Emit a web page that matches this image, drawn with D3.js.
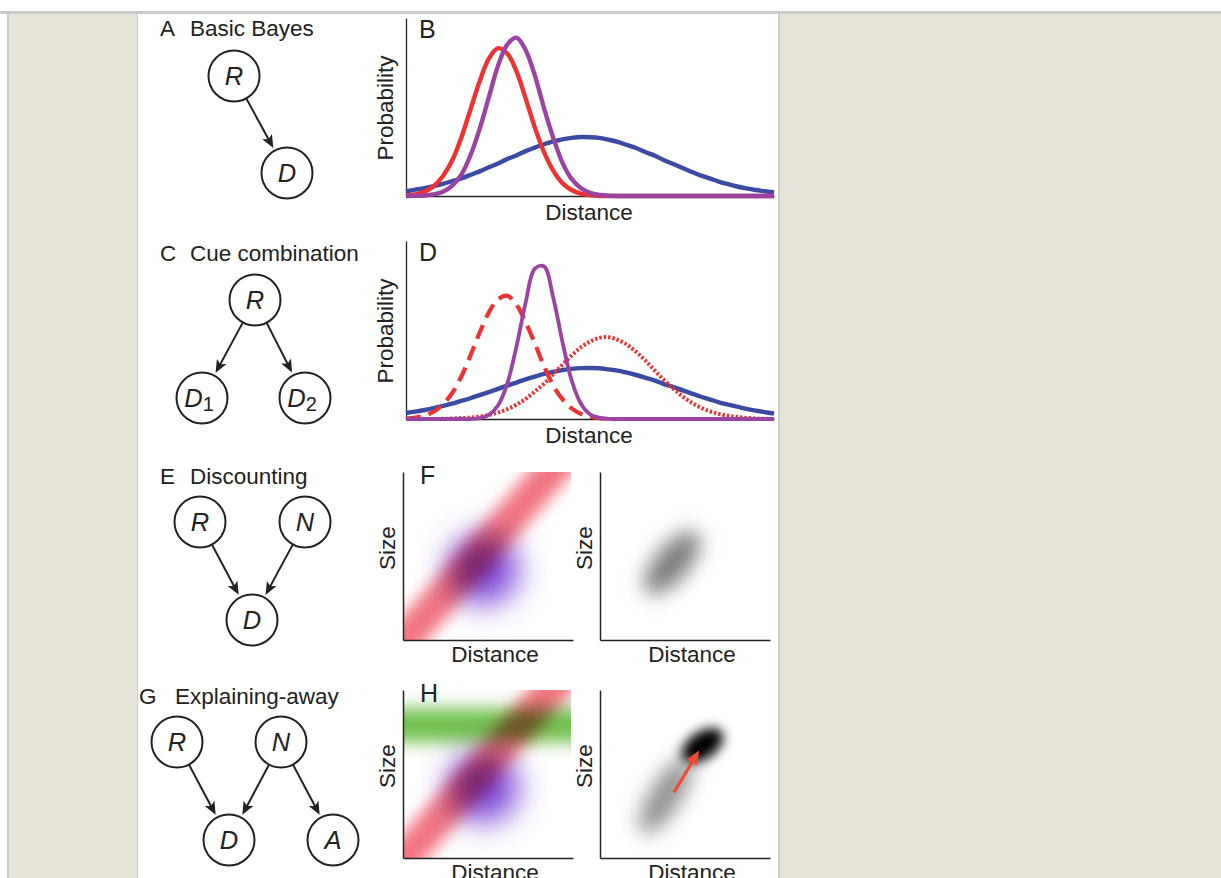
<!DOCTYPE html>
<html>
<head>
<meta charset="utf-8">
<script src="https://cdn.jsdelivr.net/npm/d3@7/dist/d3.min.js"></script>
<style>
  html, body { margin: 0; padding: 0; background: #fff; }
  svg { display: block; font-family: "Liberation Sans", Arial, Helvetica, sans-serif; }
</style>
</head>
<body>
<svg id="fig" width="1221" height="878"></svg>
<script>
// ---- data ----------------------------------------------------------------
// distance grid shared by the 1-D panels (arbitrary units 0–100)
const DIST = [0, 2.5, 5, 7.5, 10, 12.5, 15, 17.5, 20, 22.5, 25, 27.5, 30, 32.5, 35, 37.5, 40,
  42.5, 45, 47.5, 50, 52.5, 55, 57.5, 60, 62.5, 65, 67.5, 70, 72.5, 75, 77.5, 80, 82.5, 85,
  87.5, 90, 92.5, 95, 97.5, 100];

// panel B: basic Bayes
const B_LIKELIHOOD = [.003, .009, .024, .055, .112, .20, .33, .49, .65, .78, .84, .81, .71, .555,
  .39, .25, .144, .073, .034, .014, .005, 0, 0, 0, 0, 0, 0, 0, 0, 0, 0, 0, 0, 0, 0, 0, 0, 0, 0, 0, 0];
const B_POSTERIOR = [0, .001, .003, .009, .024, .058, .12, .23, .38, .56, .74, .86, .90, .83, .685,
  .50, .33, .19, .097, .045, .018, .006, .002, 0, 0, 0, 0, 0, 0, 0, 0, 0, 0, 0, 0, 0, 0, 0, 0, 0, 0];
const B_PRIOR = [.027, .036, .045, .056, .069, .084, .10, .12, .14, .163, .185, .21, .23, .255, .275,
  .294, .31, .322, .33, .335, .334, .33, .32, .308, .29, .273, .25, .23, .205, .183, .16, .138,
  .117, .10, .082, .067, .054, .043, .034, .027, .02];

// panel D: cue combination
const D_CUE1 = [.003, .008, .019, .041, .082, .146, .24, .36, .49, .605, .68, .70, .65, .55, .43,
  .30, .19, .113, .06, .029, .013, .005, 0, 0, 0, 0, 0, 0, 0, 0, 0, 0, 0, 0, 0, 0, 0, 0, 0, 0, 0];
const D_CUE2 = [0, 0, 0, 0, .001, .003, .005, .008, .014, .023, .037, .056, .081, .114, .156, .20,
  .254, .308, .36, .407, .44, .461, .465, .45, .423, .382, .333, .277, .224, .175, .131, .094,
  .066, .044, .029, .018, .011, .006, .003, .001, 0];
const D_POSTERIOR = [0, 0, 0, 0, 0, 0, 0, 0, .005, .024, .077, .20, .41, .66, .855, .867, .69,
  .44, .22, .088, .027, .007, .001, 0, 0, 0, 0, 0, 0, 0, 0, 0, 0, 0, 0, 0, 0, 0, 0, 0, 0];
const D_PRIOR = [.034, .042, .051, .062, .074, .087, .103, .118, .136, .153, .171, .19, .207, .225,
  .241, .256, .268, .278, .285, .289, .29, .288, .282, .275, .263, .25, .235, .219, .20, .183,
  .164, .146, .128, .112, .095, .082, .07, .057, .048, .039, .031];

// panels F/H: distance (x) and size (y), both 0–1
const SIZE_DIST_BAND = [[-0.2, -0.24], [1.15, 1.31]];   // red likelihood ridge
const SIZE_DIST_BAND_WIDTH = 0.2;
const PRIOR_CENTER = [0.48, 0.42];
const PRIOR_SPREAD = [0.21, 0.21];
const SIZE_CUE_LEVEL = 0.79;                            // green: auxiliary size cue
const SIZE_CUE_WIDTH = 0.2;
const POST_F = { center: [0.43, 0.46], spread: [0.23, 0.1], tilt: 50 };
const POST_H_TAIL = { center: [0.39, 0.37], spread: [0.26, 0.09], tilt: 58 };
const POST_H_PEAK = { center: [0.61, 0.67], spread: [0.14, 0.08], tilt: 35 };
const SHIFT_ARROW = [[0.44, 0.39], [0.59, 0.64]];

// graphs
const GRAPHS = [
  { title: 'Basic Bayes', letter: 'A', nodes: ['R', 'D'], edges: [['R', 'D']] },
  { title: 'Cue combination', letter: 'C', nodes: ['R', 'D1', 'D2'], edges: [['R', 'D1'], ['R', 'D2']] },
  { title: 'Discounting', letter: 'E', nodes: ['R', 'N', 'D'], edges: [['R', 'D'], ['N', 'D']] },
  { title: 'Explaining-away', letter: 'G', nodes: ['R', 'N', 'D', 'A'], edges: [['R', 'D'], ['N', 'D'], ['N', 'A']] }
];

// ---- layout --------------------------------------------------------------
const GRAPH_LAYOUT = [
  { lx: 160, tx: 190, ty: 36, pos: { R: [234, 76], D: [287, 173] } },
  { lx: 160, tx: 190, ty: 261, pos: { R: [255, 300], D1: [202, 398], D2: [305, 398] } },
  { lx: 160, tx: 190, ty: 484, pos: { R: [200, 522], N: [305, 522], D: [252, 620] } },
  { lx: 139, tx: 175, ty: 704, pos: { R: [177, 742], N: [281, 742], D: [229, 840], A: [333, 840] } }
];
const NODE_R = 25.5;
const INK = '#222';
const RED = '#ee3131', PURPLE = '#9b43a3', BLUE = '#3b4ba3';
const FONT = 22.5;

const svg = d3.select('#fig');
const defs = svg.append('defs');

// page chrome
svg.append('rect').attr('x', 0).attr('y', 11).attr('width', 1221).attr('height', 3).attr('fill', '#cbcbcb');
svg.append('rect').attr('x', 7).attr('y', 14).attr('width', 1214).attr('height', 864).attr('fill', '#e6e3d9');
svg.append('rect').attr('x', 7).attr('y', 14).attr('width', 2).attr('height', 864).attr('fill', '#cbcbcb');
svg.append('rect').attr('x', 137).attr('y', 14).attr('width', 643).attr('height', 864).attr('fill', '#d0d0d0');
svg.append('rect').attr('x', 138).attr('y', 14).attr('width', 640).attr('height', 864).attr('fill', '#fff');

function blurFilter(id, sd) {
  defs.append('filter').attr('id', id)
    .attr('filterUnits', 'userSpaceOnUse')
    .attr('x', -1500).attr('y', -1500).attr('width', 4000).attr('height', 4000)
    .append('feGaussianBlur').attr('stdDeviation', sd);
}
blurFilter('blur-band', 7.5);
blurFilter('blur-prior', 15);
blurFilter('blur-cue', 8.5);
blurFilter('blur-post', 10);
blurFilter('blur-peak', 6);

// ---- graphical models -----------------------------------------------------
function nodeLabel(sel, name) {
  sel.append('tspan').attr('font-style', 'italic').text(name[0]);
  if (name.length > 1) {
    sel.append('tspan').attr('font-size', 20).attr('dy', 4).text(name.slice(1));
  }
}

GRAPHS.forEach((gr, gi) => {
  const lay = GRAPH_LAYOUT[gi];
  const g = svg.append('g');
  g.append('text').attr('x', lay.lx).attr('y', lay.ty).attr('font-size', FONT).attr('fill', INK).text(gr.letter);
  g.append('text').attr('x', lay.tx).attr('y', lay.ty).attr('font-size', FONT).attr('fill', INK).text(gr.title);

  gr.edges.forEach(([a, b]) => {
    const [x1, y1] = lay.pos[a], [x2, y2] = lay.pos[b];
    const len = Math.hypot(x2 - x1, y2 - y1);
    const ux = (x2 - x1) / len, uy = (y2 - y1) / len;
    const sx = x1 + ux * (NODE_R + 0.5), sy = y1 + uy * (NODE_R + 0.5);
    const tx = x2 - ux * (NODE_R + 3), ty = y2 - uy * (NODE_R + 3);
    g.append('line').attr('x1', sx).attr('y1', sy)
      .attr('x2', tx - ux * 8).attr('y2', ty - uy * 8)
      .attr('stroke', INK).attr('stroke-width', 2);
    const ang = Math.atan2(uy, ux) * 180 / Math.PI;
    g.append('path').attr('d', 'M0,0L-13,-5.5L-10,0L-13,5.5Z')
      .attr('transform', `translate(${tx},${ty}) rotate(${ang})`)
      .attr('fill', INK);
  });

  gr.nodes.forEach(n => {
    const [cx, cy] = lay.pos[n];
    g.append('circle').attr('cx', cx).attr('cy', cy).attr('r', NODE_R)
      .attr('fill', '#fff').attr('stroke', INK).attr('stroke-width', 2);
    const t = g.append('text').attr('x', cx - (n.length > 1 ? 3 : 0)).attr('y', cy + 9)
      .attr('text-anchor', 'middle').attr('font-size', 25.5).attr('fill', INK);
    nodeLabel(t, n);
  });
});

// ---- 1-D probability panels -----------------------------------------------
function curvePanel(cfg) {
  const x = d3.scaleLinear().domain([0, 100]).range([406, 774]);
  const y = d3.scaleLinear().domain([0, 1]).range([cfg.base, cfg.base - 176]);
  const g = svg.append('g');

  g.append('g').attr('transform', 'translate(406,0)')
    .call(d3.axisLeft(d3.scaleLinear().domain([0, 1]).range([cfg.base, cfg.base - 178]))
      .tickValues([]).tickSizeOuter(0))
    .select('.domain').attr('stroke', INK).attr('stroke-width', 1.3);
  g.append('g').attr('transform', `translate(0,${cfg.base})`)
    .call(d3.axisBottom(x).tickValues([]).tickSizeOuter(0))
    .select('.domain').attr('stroke', INK).attr('stroke-width', 1.3);

  const line = d3.line().x((d, i) => x(DIST[i])).y(d => y(d)).curve(d3.curveCatmullRom.alpha(0.5));
  cfg.series.forEach(s => {
    g.append('path').attr('d', line(s.values))
      .attr('fill', 'none').attr('stroke', s.color).attr('stroke-width', s.width || 4.4)
      .attr('stroke-dasharray', s.dash || null)
      .attr('stroke-linejoin', 'round');
  });

  g.append('text').attr('x', 419).attr('y', cfg.base - 158).attr('font-size', 25).attr('fill', INK).text(cfg.letter);
  g.append('text').attr('transform', `translate(393,${cfg.base - 88}) rotate(-90)`)
    .attr('text-anchor', 'middle').attr('font-size', FONT).attr('fill', INK).text('Probability');
  g.append('text').attr('x', 589).attr('y', cfg.base + 24)
    .attr('text-anchor', 'middle').attr('font-size', FONT).attr('fill', INK).text('Distance');
}

curvePanel({
  letter: 'B', base: 196,
  series: [
    { values: B_PRIOR, color: BLUE },
    { values: B_LIKELIHOOD, color: RED },
    { values: B_POSTERIOR, color: PURPLE }
  ]
});

curvePanel({
  letter: 'D', base: 419,
  series: [
    { values: D_PRIOR, color: BLUE },
    { values: D_CUE2, color: RED, dash: '2.4 2', width: 4 },
    { values: D_CUE1, color: RED, dash: '15 8', width: 4.2 },
    { values: D_POSTERIOR, color: PURPLE, width: 3.8 }
  ]
});

// ---- 2-D size/distance panels -----------------------------------------------
let clipN = 0;
function heatBox(left, base, opts) {
  const x = d3.scaleLinear().domain([0, 1]).range([left, left + 168]);
  const y = d3.scaleLinear().domain([0, 1]).range([base, base - 168]);
  const id = 'clip' + (clipN++);
  defs.append('clipPath').attr('id', id).append('rect')
    .attr('x', left).attr('y', base - 168).attr('width', 168).attr('height', 168);

  const g = svg.append('g');
  const layer = g.append('g').attr('clip-path', `url(#${id})`).style('isolation', 'isolate');
  layer.append('rect').attr('x', left).attr('y', base - 168).attr('width', 168).attr('height', 168).attr('fill', '#fff');

  const ellipse = (e, fill, filt, blend) => layer.append('ellipse')
    .attr('cx', 0).attr('cy', 0)
    .attr('rx', x(e.spread[0]) - x(0)).attr('ry', y(0) - y(e.spread[1]))
    .attr('transform', `translate(${x(e.center[0])},${y(e.center[1])}) rotate(${-(e.tilt || 0)})`)
    .attr('fill', fill).attr('filter', `url(#${filt})`)
    .style('mix-blend-mode', blend || 'normal');

  if (opts.prior) {
    ellipse({ center: PRIOR_CENTER, spread: PRIOR_SPREAD }, '#7e48d8', 'blur-prior');
  }
  if (opts.band) {
    layer.append('line')
      .attr('x1', x(SIZE_DIST_BAND[0][0])).attr('y1', y(SIZE_DIST_BAND[0][1]))
      .attr('x2', x(SIZE_DIST_BAND[1][0])).attr('y2', y(SIZE_DIST_BAND[1][1]))
      .attr('stroke', '#f27480').attr('stroke-width', x(SIZE_DIST_BAND_WIDTH) - x(0))
      .attr('filter', 'url(#blur-band)').style('mix-blend-mode', 'multiply');
  }
  if (opts.cue) {
    layer.append('rect')
      .attr('x', left - 30).attr('width', 228)
      .attr('y', y(SIZE_CUE_LEVEL + SIZE_CUE_WIDTH / 2))
      .attr('height', y(0) - y(SIZE_CUE_WIDTH))
      .attr('fill', '#70c04e').attr('filter', 'url(#blur-cue)').style('mix-blend-mode', 'multiply');
  }
  (opts.posts || []).forEach(p => ellipse(p.e, p.fill, p.filter));
  if (opts.arrow) {
    const [[ax1, ay1], [ax2, ay2]] = opts.arrow;
    const sx = x(ax1), sy = y(ay1), tx = x(ax2), ty = y(ay2);
    const len = Math.hypot(tx - sx, ty - sy), ux = (tx - sx) / len, uy = (ty - sy) / len;
    g.append('line').attr('x1', sx).attr('y1', sy).attr('x2', tx - ux * 9).attr('y2', ty - uy * 9)
      .attr('stroke', '#ef4a32').attr('stroke-width', 3.2);
    g.append('path').attr('d', 'M0,0L-14,-6L-14,6Z')
      .attr('transform', `translate(${tx},${ty}) rotate(${Math.atan2(uy, ux) * 180 / Math.PI})`)
      .attr('fill', '#ef4a32');
  }

  g.append('g').attr('transform', `translate(${left},0)`)
    .call(d3.axisLeft(y).tickValues([]).tickSizeOuter(0))
    .select('.domain').attr('stroke', INK).attr('stroke-width', 1.5);
  g.append('g').attr('transform', `translate(0,${base})`)
    .call(d3.axisBottom(d3.scaleLinear().domain([0, 1]).range([left, left + 170])).tickValues([]).tickSizeOuter(0))
    .select('.domain').attr('stroke', INK).attr('stroke-width', 1.5);

  if (opts.letter) {
    g.append('text').attr('x', left + 17).attr('y', base - 156).attr('font-size', 25).attr('fill', INK).text(opts.letter);
  }
  g.append('text').attr('transform', `translate(${left - 8},${base - 92}) rotate(-90)`)
    .attr('text-anchor', 'middle').attr('font-size', FONT).attr('fill', INK).text('Size');
  g.append('text').attr('x', left + 92).attr('y', base + 22)
    .attr('text-anchor', 'middle').attr('font-size', FONT).attr('fill', INK).text('Distance');
}

heatBox(403, 640, { letter: 'F', prior: true, band: true });
heatBox(600, 640, { posts: [{ e: POST_F, fill: '#7a7a7a', filter: 'blur-post' }] });
heatBox(403, 858, { letter: 'H', prior: true, band: true, cue: true });
heatBox(600, 858, {
  posts: [
    { e: POST_H_TAIL, fill: '#8e8e8e', filter: 'blur-post' },
    { e: POST_H_PEAK, fill: '#000', filter: 'blur-peak' }
  ],
  arrow: SHIFT_ARROW
});
</script>
</body>
</html>
